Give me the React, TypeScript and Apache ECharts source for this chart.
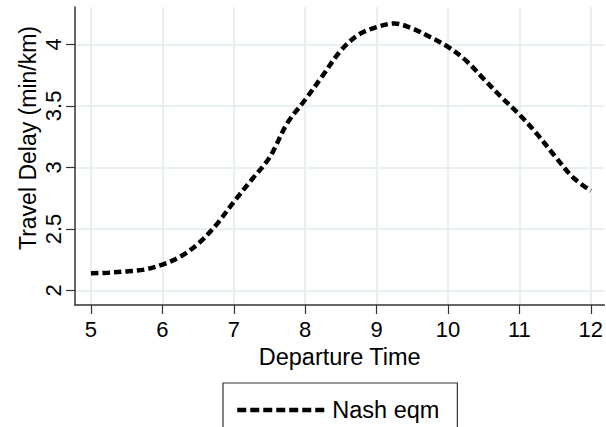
import React, { useEffect, useRef } from "react";
import * as echarts from "echarts";

const departureTimes = [5, 5.25, 5.5, 5.75, 6, 6.25, 6.5, 6.75, 7, 7.25, 7.5, 7.75, 8, 8.25, 8.5, 8.75, 9, 9.25, 9.5, 9.75, 10, 10.25, 10.5, 10.75, 11, 11.25, 11.5, 11.75, 12];
const nashEqm = [2.14, 2.145, 2.155, 2.17, 2.21, 2.275, 2.38, 2.53, 2.72, 2.9, 3.08, 3.36, 3.55, 3.75, 3.95, 4.08, 4.14, 4.17, 4.13, 4.06, 3.98, 3.87, 3.72, 3.57, 3.43, 3.27, 3.09, 2.92, 2.81];
const xTicks = [5, 6, 7, 8, 9, 10, 11, 12];
const yTicks = [2, 2.5, 3, 3.5, 4];

const FONT = "'Liberation Sans', Arial, Helvetica, sans-serif";

export default function App() {
  const ref = useRef<HTMLDivElement>(null);
  useEffect(() => {
    const chart = echarts.init(ref.current!, null, { renderer: "svg" });
    chart.setOption({
      animation: false,
      backgroundColor: "#ffffff",
      grid: { left: 75, right: 0, top: 7, bottom: 122, containLabel: false },
      xAxis: {
        type: "value",
        min: 4.7765,
        max: 12.191,
        name: "Departure Time",
        nameLocation: "middle",
        nameGap: 39,
        nameTextStyle: { fontFamily: FONT, fontSize: 23.5, color: "#000" },
        axisLine: { show: true, lineStyle: { color: "#333", width: 1.5 } },
        axisTick: { show: true, length: 9, lineStyle: { color: "#333", width: 1.2 }, customValues: xTicks },
        axisLabel: { customValues: xTicks, fontFamily: FONT, fontSize: 22, color: "#000", margin: 13 },
        splitLine: { show: true, lineStyle: { color: "#e9f0f2", width: 2 } },
      },
      yAxis: {
        type: "value",
        min: 1.882,
        max: 4.304,
        axisLine: { show: true, lineStyle: { color: "#333", width: 1.5 } },
        axisTick: { show: true, length: 9, lineStyle: { color: "#333", width: 1.2 }, customValues: yTicks },
        axisLabel: { customValues: yTicks, rotate: 90, fontFamily: FONT, fontSize: 22, color: "#000", margin: 11 },
        splitLine: { show: true, lineStyle: { color: "#e9f0f2", width: 2 } },
      },
      graphic: [
        {
          type: "text",
          x: 28,
          y: 138,
          rotation: Math.PI / 2,
          style: {
            text: "Travel Delay (min/km)",
            font: `23px ${FONT}`,
            fill: "#000",
            align: "center",
            verticalAlign: "middle",
          },
        },
      ],
      legend: {
        left: 223,
        top: 383,
        orient: "horizontal",
        padding: [15, 18, 15, 12],
        borderColor: "#333",
        borderWidth: 1.2,
        borderRadius: 0,
        itemWidth: 90,
        itemHeight: 14,
        itemGap: 8,
        itemStyle: { opacity: 0 },
        lineStyle: { color: "#000", width: 4.5, type: [9, 4], cap: "butt" },
        textStyle: { fontFamily: FONT, fontSize: 23.5, color: "#000" },
        data: ["Nash eqm"],
      },
      series: [
        {
          name: "Nash eqm",
          type: "line",
          data: departureTimes.map((t, i) => [t, nashEqm[i]]),
          symbol: "none",
          smooth: 0.35,
          lineStyle: { color: "#000", width: 4.5, type: [7.5, 4], cap: "butt" },
          itemStyle: { color: "#000" },
          z: 3,
        },
      ],
    });
    return () => chart.dispose();
  }, []);
  return (
    <div
      ref={ref}
      style={{ position: "absolute", left: 0, top: 0, width: 606, height: 427, background: "#fff" }}
    />
  );
}
